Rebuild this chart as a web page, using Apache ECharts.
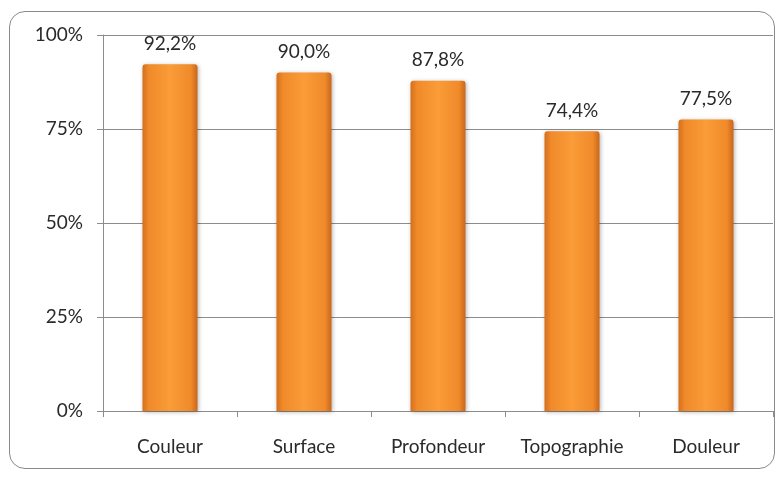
<!DOCTYPE html>
<html>
<head>
<meta charset="utf-8">
<script src="https://cdn.jsdelivr.net/npm/echarts@6/dist/echarts.min.js"></script>
<style>
html,body{margin:0;padding:0;background:#fff;}
#frame{position:absolute;left:9px;top:11px;width:766px;height:458px;border:1.5px solid #8a8a8a;border-radius:16px;box-sizing:border-box;}
#c{position:absolute;left:0;top:0;width:782px;height:477px;}
</style>
</head>
<body>
<div id="frame"></div>
<div id="c"></div>
<script>
const categories = ["Couleur", "Surface", "Profondeur", "Topographie", "Douleur"];
const values = [92.2, 90.0, 87.8, 74.4, 77.5];
const yTicks = [0, 25, 50, 75, 100];

const chart = echarts.init(document.getElementById('c'), null, {renderer: 'canvas'});
const font = 'Lato, "Open Sans", sans-serif';
chart.setOption({
  animation: false,
  grid: {left: 103, right: 9, top: 35, bottom: 66},
  xAxis: {
    type: 'category',
    data: categories,
    axisLine: {lineStyle: {color: '#8c8c8c', width: 1}},
    axisTick: {show: true, length: 6, lineStyle: {color: '#8c8c8c'}},
    axisLabel: {color: '#2a2a2a', fontSize: 19, fontFamily: font, margin: 26}
  },
  yAxis: {
    type: 'value',
    min: yTicks[0],
    max: yTicks[yTicks.length - 1],
    interval: 25,
    axisLine: {show: true, lineStyle: {color: '#8c8c8c', width: 1}},
    axisTick: {show: true, length: 6, lineStyle: {color: '#8c8c8c'}},
    splitLine: {lineStyle: {color: '#8c8c8c', width: 1}},
    axisLabel: {color: '#2a2a2a', fontSize: 19, fontFamily: font, margin: 20,
      formatter: v => v + '%'}
  },
  series: [{
    type: 'bar',
    data: values,
    barWidth: 55,
    itemStyle: {
      borderRadius: [3, 3, 0, 0],
      color: {
        type: 'linear', x: 0, y: 0, x2: 1, y2: 0,
        colorStops: [
          {offset: 0, color: '#D5701C'},
          {offset: 0.12, color: '#F08A2A'},
          {offset: 0.5, color: '#FA9C38'},
          {offset: 0.88, color: '#F08A2A'},
          {offset: 1, color: '#C9661A'}
        ]
      },
      shadowColor: 'rgba(0,0,0,0.3)',
      shadowBlur: 4,
      shadowOffsetX: 1,
      shadowOffsetY: 1
    },
    label: {
      show: true,
      position: 'top',
      distance: 11,
      color: '#2a2a2a',
      fontSize: 19,
      fontFamily: font,
      formatter: p => p.value.toFixed(1).replace('.', ',') + '%'
    }
  }]
});
</script>
</body>
</html>
